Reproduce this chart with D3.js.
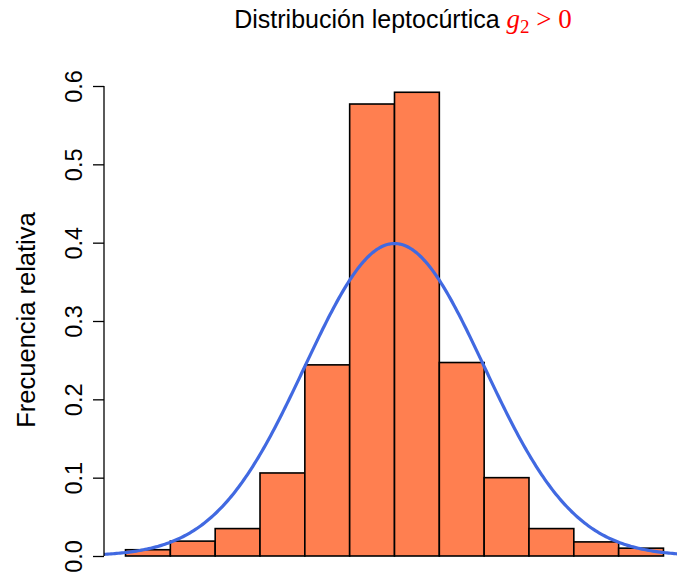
<!DOCTYPE html>
<html>
<head>
<meta charset="utf-8">
<script src="https://cdn.jsdelivr.net/npm/d3@7"></script>
<style>
  body { margin: 0; background: #fff; }
  svg text { font-family: "Liberation Sans", Arial, Helvetica, sans-serif; }
</style>
</head>
<body>
<div id="graphic"></div>
<script>
// histogram bins (lower edges) and relative frequency (density) per bin
const binStarts = [-3, -2.5, -2, -1.5, -1, -0.5, 0, 0.5, 1, 1.5, 2, 2.5];
const binWidth = 0.5;
const relFreq = [0.008, 0.019, 0.035, 0.106, 0.244, 0.577, 0.592, 0.247, 0.100, 0.035, 0.018, 0.010];
const yTicks = [0, 0.1, 0.2, 0.3, 0.4, 0.5, 0.6];
// reference normal curve
const normMean = 0, normSd = 1;

const width = 677, height = 573;
const margin = { top: 73, right: -8, bottom: -2, left: 104 };

let svg = d3.select('#graphic')
  .append('svg')
  .attr('width', width)
  .attr('height', height);

const x = d3.scaleLinear()
  .domain([-3.24, 3.24])
  .range([margin.left, width - margin.right]);

const y = d3.scaleLinear()
  .domain([0, 0.6])
  .range([556, 86]);

svg.append('defs').append('clipPath').attr('id', 'plotclip')
  .append('rect')
  .attr('x', margin.left).attr('y', margin.top)
  .attr('width', width - margin.right - margin.left)
  .attr('height', height - margin.top);

// bars
svg.append('g')
  .selectAll('rect')
  .data(binStarts.map((b, i) => ({ x0: b, x1: b + binWidth, v: relFreq[i] })))
  .join('rect')
  .attr('x', d => x(d.x0))
  .attr('y', d => y(d.v))
  .attr('width', d => x(d.x1) - x(d.x0))
  .attr('height', d => y(0) - y(d.v))
  .attr('fill', '#FF7F50')
  .attr('stroke', '#000')
  .attr('stroke-width', 1.6);

// normal density curve
const dens = t => Math.exp(-0.5 * ((t - normMean) / normSd) ** 2) / (normSd * Math.sqrt(2 * Math.PI));
const curveX = d3.range(-3.6, 3.6001, 0.02);
svg.append('path')
  .datum(curveX)
  .attr('clip-path', 'url(#plotclip)')
  .attr('fill', 'none')
  .attr('stroke', '#4169E1')
  .attr('stroke-width', 3.2)
  .attr('d', d3.line().x(d => x(d)).y(d => y(dens(d))));

// y axis
let yAxis = d3.axisLeft(y)
  .tickValues(yTicks)
  .tickSize(11)
  .tickPadding(0)
  .tickFormat(d3.format('.1f'));

let gy = svg.append('g')
  .attr('transform', 'translate(' + margin.left + ',0)')
  .call(yAxis);
gy.select('.domain').attr('stroke', '#000').attr('stroke-width', 1.3)
  .attr('d', 'M0,' + y(0) + 'V' + y(0.6));
gy.selectAll('.tick line').attr('stroke', '#000').attr('stroke-width', 1.3);
gy.selectAll('.tick text')
  .attr('x', 0).attr('y', 0).attr('dy', null)
  .attr('transform', 'translate(-22,0) rotate(-90)')
  .attr('text-anchor', 'middle')
  .attr('fill', '#000')
  .style('font-size', '23.5px')
  .style('font-family', '"Liberation Sans", Arial, sans-serif');

// y axis label
svg.append('text')
  .attr('transform', 'translate(35,320) rotate(-90)')
  .attr('text-anchor', 'middle')
  .style('font-size', '25.5px')
  .text('Frecuencia relativa');

// title
let title = svg.append('text')
  .attr('x', 403)
  .attr('y', 28)
  .attr('text-anchor', 'middle')
  .style('font-size', '25px');
title.append('tspan').text('Distribución leptocúrtica ');
title.append('tspan')
  .attr('fill', 'red')
  .style('font-family', '"Liberation Serif", "Times New Roman", serif')
  .style('font-style', 'italic')
  .style('font-size', '27px')
  .text('g');
title.append('tspan')
  .attr('fill', 'red')
  .attr('dy', 5)
  .style('font-family', '"Liberation Serif", "Times New Roman", serif')
  .style('font-size', '19px')
  .text('2');
title.append('tspan')
  .attr('fill', 'red')
  .attr('dy', -5)
  .style('font-family', '"Liberation Serif", "Times New Roman", serif')
  .style('font-size', '27px')
  .text(' > 0');
</script>
</body>
</html>
